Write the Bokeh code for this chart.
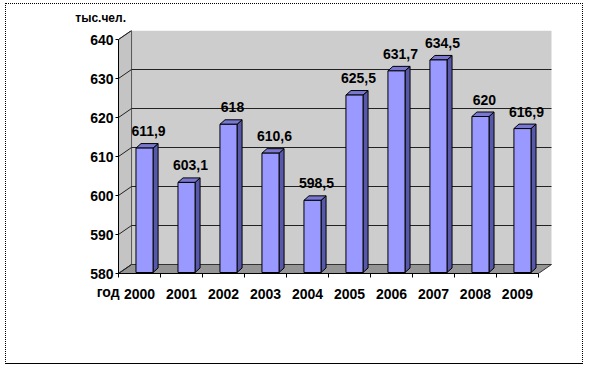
from bokeh.plotting import figure
from bokeh.models import FixedTicker, Label, ColumnDataSource
from bokeh.core.properties import value
from bokeh.embed import file_html
from bokeh.resources import INLINE

# ---- data ----
years = ["2000", "2001", "2002", "2003", "2004", "2005", "2006", "2007", "2008", "2009"]
population = [611.9, 603.1, 618.0, 610.6, 598.5, 625.5, 631.7, 634.5, 620.0, 616.9]
value_labels = ["611,9", "603,1", "618", "610,6", "598,5", "625,5", "631,7", "634,5", "620", "616,9"]
y_ticks = [580, 590, 600, 610, 620, 630, 640]
y_unit = "тыс.чел."
x_unit = "год"

# ---- projection constants (pixels -> data units) ----
PX_X = 41.8      # px per category
PX_Y = 3.9       # px per unit of value
Y0 = y_ticks[0]
Y1 = y_ticks[-1]
N = len(years)
WALL_DX = 13 / PX_X
WALL_DY = 9 / PX_Y
BAR_W = 17 / PX_X
BAR_SHIFT_X = 5 / PX_X
BAR_SHIFT_Y = 1.0 / PX_Y
BAR_DX = 5 / PX_X
BAR_DY = 4.5 / PX_Y

FONT = "Liberation Sans"

p = figure(width=578, height=361, output_backend="svg", toolbar_location=None,
           x_range=(0, N + 14 / PX_X), y_range=(Y0, Y1 + WALL_DY),
           min_border_left=112, min_border_right=32, min_border_top=26, min_border_bottom=92)
p.styles = {"border": "1px dotted black", "border-bottom": "1px solid black",
            "margin-left": "5px", "margin-top": "3px"}
p.outline_line_color = None
p.grid.visible = False
p.background_fill_color = "white"
p.border_fill_color = "white"

# ---- walls and floor ----
wall_col = "#cdcdcd"
p.quad(left=WALL_DX, right=N + WALL_DX, bottom=Y0 + WALL_DY, top=Y1 + WALL_DY,
       fill_color=wall_col, line_color=None)
p.patch([0, WALL_DX, WALL_DX, 0], [Y0, Y0 + WALL_DY, Y1 + WALL_DY, Y1],
        fill_color="#c4c4c4", line_color="#555555", line_width=1)
p.patch([0, N, N + WALL_DX, WALL_DX], [Y0, Y0, Y0 + WALL_DY, Y0 + WALL_DY],
        fill_color="#959595", line_color="#333333", line_width=1)

# gridlines on back wall + diagonal connectors on side wall
grid_vals = y_ticks[1:-1]
p.segment(x0=[WALL_DX] * len(grid_vals), y0=[v + WALL_DY for v in grid_vals],
          x1=[N + WALL_DX] * len(grid_vals), y1=[v + WALL_DY for v in grid_vals],
          line_color="#222222", line_width=1)
p.segment(x0=[0] * len(y_ticks), y0=y_ticks,
          x1=[WALL_DX] * len(y_ticks), y1=[v + WALL_DY for v in y_ticks],
          line_color="#222222", line_width=1)

# ---- bars ----
lefts = [i + 0.5 + BAR_SHIFT_X - BAR_W / 2 for i in range(N)]
rights = [l + BAR_W for l in lefts]
bottoms = [Y0 + BAR_SHIFT_Y] * N
tops = [v + BAR_SHIFT_Y for v in population]

side_xs = [[r, r + BAR_DX, r + BAR_DX, r] for r in rights]
side_ys = [[b, b + BAR_DY, t + BAR_DY, t] for b, t in zip(bottoms, tops)]
top_xs = [[l, r, r + BAR_DX, l + BAR_DX] for l, r in zip(lefts, rights)]
top_ys = [[t, t, t + BAR_DY, t + BAR_DY] for t in tops]

p.patches(side_xs, side_ys, fill_color="#5858a8", line_color="black", line_width=1)
p.patches(top_xs, top_ys, fill_color="#7878d0", line_color="black", line_width=1)
p.quad(left=lefts, right=rights, bottom=bottoms, top=tops,
       fill_color="#9999ff", line_color="black", line_width=1)

# ---- value labels ----
src = ColumnDataSource(dict(x=[i + 0.5 + BAR_SHIFT_X for i in range(N)], y=tops, t=value_labels))
p.text(x="x", y="y", text="t", source=src, x_offset=4, y_offset=-17,
       text_align="center", text_baseline="middle",
       text_font=value(FONT), text_font_style="bold", text_font_size="14px", text_color="black")

# ---- axes ----
ya = p.yaxis[0]
ya.ticker = FixedTicker(ticks=y_ticks)
ya.bounds = (Y0, Y1)
ya.major_tick_out = 3
ya.major_tick_in = 0
ya.minor_tick_out = 0
ya.minor_tick_in = 0
ya.major_label_standoff = 2
ya.axis_line_color = "black"
ya.major_tick_line_color = "black"
ya.major_label_text_font = FONT
ya.major_label_text_font_style = "bold"
ya.major_label_text_font_size = "14px"
ya.major_label_text_color = "black"

xa = p.xaxis[0]
centers = [i + 0.5 for i in range(N)]
xa.ticker = FixedTicker(ticks=centers, minor_ticks=list(range(N + 1)))
xa.major_label_overrides = {c: y for c, y in zip(centers, years)}
xa.bounds = (0, N)
xa.major_tick_out = 0
xa.major_tick_in = 0
xa.minor_tick_out = 4
xa.minor_tick_in = 0
xa.minor_tick_line_color = "black"
xa.axis_line_color = "black"
xa.major_label_standoff = 11
xa.major_label_text_font = FONT
xa.major_label_text_font_style = "bold"
xa.major_label_text_font_size = "14px"
xa.major_label_text_color = "black"

# ---- unit captions (placed in side panels so they are not clipped to the frame) ----
p.add_layout(Label(x=-10.3 / PX_X, y=Y0, y_offset=-18, text=x_unit,
                   text_align="center", text_baseline="middle",
                   text_font=FONT, text_font_style="bold", text_font_size="14px",
                   text_color="black"), "below")
p.add_layout(Label(x=-17.8 / PX_X, y=Y0 + 256 / PX_Y, text=y_unit,
                   text_align="center", text_baseline="middle",
                   text_font=FONT, text_font_style="bold", text_font_size="12px",
                   text_color="black"), "left")

open("out.html", "w").write(file_html(p, INLINE))
